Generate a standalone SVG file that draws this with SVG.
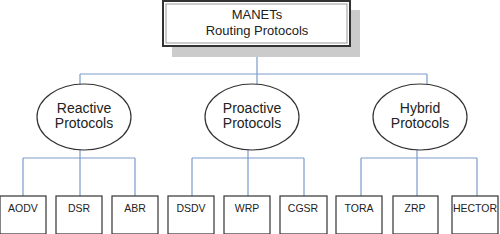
<svg xmlns="http://www.w3.org/2000/svg" width="500" height="234" viewBox="0 0 500 234">
<style>
.c{fill:none;stroke:#7b9bcb;stroke-width:1.2}
.n{fill:#fff;stroke:#333;stroke-width:1.2}
.t{font-family:"Liberation Sans",Arial,sans-serif;fill:#222;text-anchor:middle}
.l{font-size:10.5px}
.e{font-size:14px}
.m{font-size:13px}
</style>
<rect width="500" height="234" fill="#fff"/>
<g id="connectors">
<path class="c" d="M257 46V74M80 74H427M80 74V84M257 74V84M427 74V84"/>
<path class="c" d="M80 150V158M23 158H135M23 158V196M80 158V196M135 158V196"/>
<path class="c" d="M248 150V158M192 158H304M192 158V196M248 158V196M304 158V196"/>
<path class="c" d="M417 150V158M361 158H477M361 158V196M417 158V196M477 158V196"/>
</g>
<g id="root">
<rect x="172" y="10" width="188" height="47" fill="#cbcbcb"/>
<rect x="163" y="1" width="187" height="45" fill="#fff" stroke="#333" stroke-width="2"/>
<rect x="166" y="4" width="181" height="39" fill="none" stroke="#999" stroke-width="1"/>
<text class="t m" x="257" y="19">MANETs</text>
<text class="t m" x="257" y="35">Routing Protocols</text>
</g>
<g id="reactive">
<ellipse class="n" cx="84" cy="117" rx="47" ry="33"/>
<text class="t e" x="84" y="113">Reactive</text>
<text class="t e" x="84" y="128">Protocols</text>
</g>
<g id="proactive">
<ellipse class="n" cx="252" cy="117" rx="47" ry="33"/>
<text class="t e" x="252" y="113">Proactive</text>
<text class="t e" x="252" y="128">Protocols</text>
</g>
<g id="hybrid">
<ellipse class="n" cx="420" cy="117" rx="47" ry="33"/>
<text class="t e" x="420" y="113">Hybrid</text>
<text class="t e" x="420" y="128">Protocols</text>
</g>
<g id="aodv"><rect class="n" x="0" y="196" width="46" height="38"/><text class="t l" x="23" y="212">AODV</text></g>
<g id="dsr"><rect class="n" x="56" y="196" width="46" height="38"/><text class="t l" x="79" y="212">DSR</text></g>
<g id="abr"><rect class="n" x="112" y="196" width="46" height="38"/><text class="t l" x="135" y="212">ABR</text></g>
<g id="dsdv"><rect class="n" x="168" y="196" width="46" height="38"/><text class="t l" x="191" y="212">DSDV</text></g>
<g id="wrp"><rect class="n" x="224" y="196" width="46" height="38"/><text class="t l" x="247" y="212">WRP</text></g>
<g id="cgsr"><rect class="n" x="280" y="196" width="47" height="38"/><text class="t l" x="303" y="212">CGSR</text></g>
<g id="tora"><rect class="n" x="336" y="196" width="46" height="38"/><text class="t l" x="359" y="212">TORA</text></g>
<g id="zrp"><rect class="n" x="393" y="196" width="45" height="38"/><text class="t l" x="415" y="212">ZRP</text></g>
<g id="hector"><rect class="n" x="452" y="196" width="46" height="38"/><text class="t l" x="475" y="212">HECTOR</text></g>
</svg>
